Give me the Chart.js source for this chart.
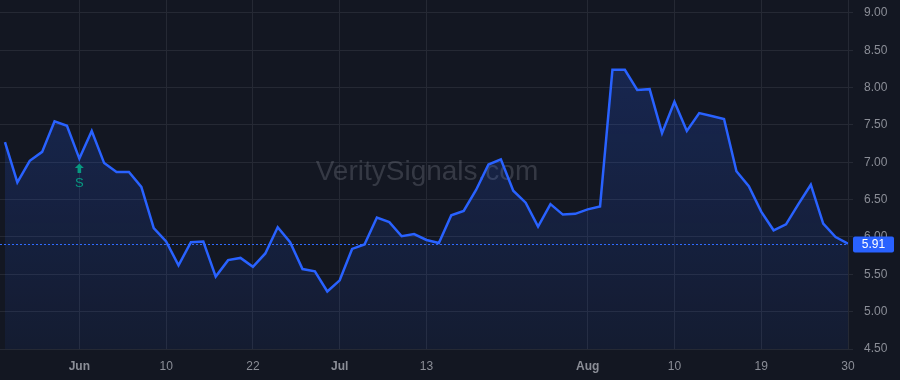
<!DOCTYPE html>
<html>
<head>
<meta charset="utf-8">
<script src="https://cdn.jsdelivr.net/npm/chart.js@4.4.1/dist/chart.umd.min.js"></script>
<style>
  html, body { margin: 0; padding: 0; background: #131722; }
  canvas { display: block; }
</style>
</head>
<body>
<canvas id="c" width="900" height="380"></canvas>
<script>
// ---- data ----
const values = [7.27,6.73,7.02,7.14,7.55,7.49,7.05,7.42,6.99,6.87,
                6.87,6.67,6.12,5.94,5.62,5.93,5.94,5.47,5.69,5.72,
                5.60,5.78,6.13,5.93,5.57,5.54,5.27,5.42,5.84,5.90,
                6.26,6.20,6.01,6.04,5.96,5.92,6.29,6.35,6.63,6.97,
                7.04,6.62,6.46,6.14,6.44,6.30,6.31,6.37,6.41,8.24,
                8.24,7.97,7.98,7.39,7.81,7.42,7.66,7.62,7.58,6.88,
                6.68,6.34,6.09,6.17,6.44,6.70,6.18,6.00,5.91];
const xTickPositions = [6, 13, 20, 27, 34, 47, 54, 61, 68];
const xTickLabels = ['Jun', '10', '22', 'Jul', '13', 'Aug', '10', '19', '30'];
const monthLabels = ['Jun', 'Jul', 'Aug'];
const yTickValues = [4.5, 5.0, 5.5, 6.0, 6.5, 7.0, 7.5, 8.0, 8.5, 9.0];
const signalIndex = 6;
const signalLabel = 'S';
const watermark = 'VeritySignals.com';

const BG = '#131722';
const LINE = '#2962ff';
const GRID = '#252934';
const TEXT = '#8b8e97';
const FONT = '"Liberation Sans", Arial, sans-serif';

const points = values.map((v, i) => ({ x: i, y: v }));

const overlay = {
  id: 'overlay',
  beforeDatasetsDraw(chart) {
    const { ctx, chartArea: a } = chart;
    ctx.save();
    ctx.font = '28px ' + FONT;
    ctx.fillStyle = 'rgba(125,129,140,0.33)';
    ctx.textAlign = 'center';
    ctx.textBaseline = 'middle';
    ctx.fillText(watermark, 427, 172);
    ctx.restore();
  },
  afterDatasetsDraw(chart) {
    const { ctx, scales } = chart;
    const ys = scales.y, xs = scales.x;
    const px = xs.getPixelForValue(signalIndex);
    const py = ys.getPixelForValue(values[signalIndex]);
    ctx.save();
    ctx.fillStyle = '#089981';
    const tip = py + 5;
    ctx.beginPath();
    ctx.moveTo(px, tip);
    ctx.lineTo(px + 4.5, tip + 4.5);
    ctx.lineTo(px + 1.8, tip + 4.5);
    ctx.lineTo(px + 1.8, tip + 9.5);
    ctx.lineTo(px - 1.8, tip + 9.5);
    ctx.lineTo(px - 1.8, tip + 4.5);
    ctx.lineTo(px - 4.5, tip + 4.5);
    ctx.closePath();
    ctx.fill();
    ctx.font = '13px ' + FONT;
    ctx.textAlign = 'center';
    ctx.textBaseline = 'middle';
    ctx.fillText(signalLabel, px, tip + 20);
    ctx.restore();
  },
  afterDraw(chart) {
    const { ctx, chartArea: a, scales } = chart;
    const ys = scales.y;
    const last = values[values.length - 1];
    const y = Math.round(ys.getPixelForValue(last)) + 0.5;
    ctx.save();
    ctx.fillStyle = BG;
    ctx.fillRect(a.right + 8, a.bottom + 3, 60, 40);
    ctx.strokeStyle = '#2f6bff';
    ctx.lineWidth = 1;
    ctx.setLineDash([2, 2]);
    ctx.beginPath();
    ctx.moveTo(a.left, y);
    ctx.lineTo(a.right, y);
    ctx.stroke();
    ctx.setLineDash([]);
    const bx = a.right + 5, bw = 41, bh = 16;
    ctx.fillStyle = LINE;
    ctx.beginPath();
    ctx.roundRect(bx, y - bh / 2, bw, bh, 2);
    ctx.fill();
    ctx.fillStyle = '#ffffff';
    ctx.font = '12px ' + FONT;
    ctx.textAlign = 'center';
    ctx.textBaseline = 'middle';
    ctx.fillText(last.toFixed(2), bx + bw / 2, y + 0.5);
    ctx.restore();
  }
};

const canvas = document.getElementById('c');
const c2d = canvas.getContext('2d');

new Chart(canvas, {
  type: 'line',
  data: {
    datasets: [{
      data: points,
      borderColor: LINE,
      borderWidth: 2.5,
      pointRadius: 0,
      tension: 0,
      fill: 'start',
      backgroundColor(context) {
        const a = context.chart.chartArea;
        if (!a) return 'rgba(41,98,255,0.15)';
        const g = c2d.createLinearGradient(0, a.top, 0, a.bottom);
        g.addColorStop(0, 'rgba(41,98,255,0.24)');
        g.addColorStop(1, 'rgba(41,98,255,0.07)');
        return g;
      }
    }]
  },
  options: {
    responsive: false,
    animation: false,
    devicePixelRatio: 1,
    layout: { padding: 0 },
    plugins: { legend: { display: false }, tooltip: { enabled: false } },
    scales: {
      x: {
        type: 'linear',
        min: -0.4,
        max: 68,
        afterBuildTicks(scale) { scale.ticks = xTickPositions.map(v => ({ value: v })); },
        afterFit(scale) { scale.height = 31; scale.paddingLeft = 0; scale.paddingRight = 0; },
        border: { display: false },
        grid: { color: GRID, drawTicks: false, lineWidth: 1 },
        ticks: {
          padding: 10,
          maxRotation: 0,
          autoSkip: false,
          color: TEXT,
          font(ctx) {
            const lbl = ctx.tick ? xTickLabels[xTickPositions.indexOf(ctx.tick.value)] : '';
            return { family: FONT, size: 12, weight: monthLabels.includes(lbl) ? 'bold' : 'normal' };
          },
          callback(v) {
            const k = xTickPositions.indexOf(v);
            return k >= 0 ? xTickLabels[k] : null;
          }
        }
      },
      y: {
        position: 'right',
        min: 4.5,
        max: 9.174,
        afterBuildTicks(scale) { scale.ticks = yTickValues.map(v => ({ value: v })); },
        afterFit(scale) { scale.width = 52; scale.paddingTop = 0; scale.paddingBottom = 0; },
        border: { display: false },
        grid: { color: GRID, tickLength: 5, lineWidth: 1 },
        ticks: {
          padding: 11,
          color: TEXT,
          font: { family: FONT, size: 12 },
          callback(v) { return Number(v).toFixed(2); }
        }
      }
    }
  },
  plugins: [overlay]
});
</script>
</body>
</html>
